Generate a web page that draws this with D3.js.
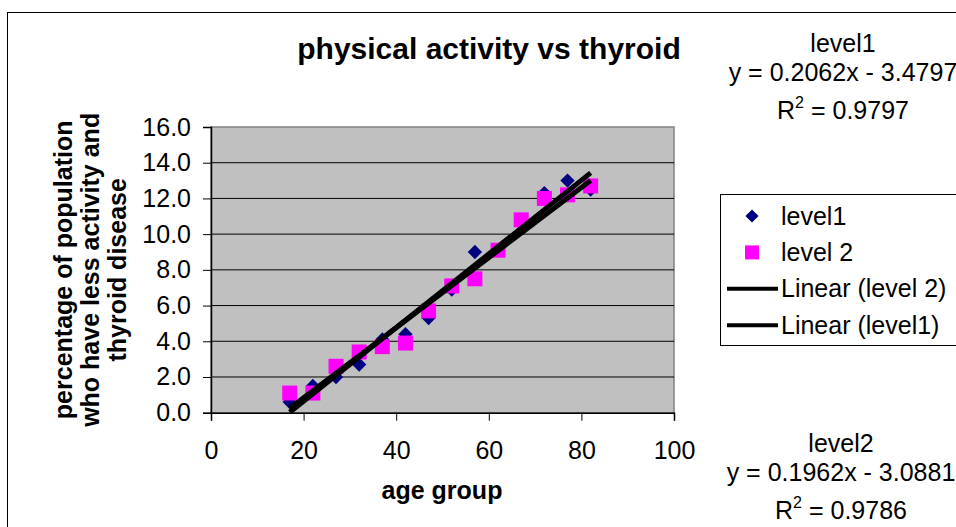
<!DOCTYPE html>
<html>
<head>
<meta charset="utf-8">
<script src="https://cdn.jsdelivr.net/npm/d3@7"></script>
<style>
  body { margin: 0; background: #fff; }
  text { font-family: "Liberation Sans", Arial, sans-serif; fill: #000; }
</style>
</head>
<body>
<script>
const width = 956;
const height = 527;

// data
const ageGroups = [17, 22, 27, 32, 37, 42, 47, 52, 57, 62, 67, 72, 77, 82];
const level1 = [0.6, 1.5, 2.0, 2.7, 4.1, 4.4, 5.3, 6.9, 9.0, 9.1, 10.6, 12.3, 13.0, 12.5];
const level2 = [1.1, 1.1, 2.6, 3.4, 3.7, 3.9, 5.7, 7.1, 7.5, 9.1, 10.8, 12.0, 12.2, 12.7];
const xTicks = [0, 20, 40, 60, 80, 100];
const yTicks = [0, 2, 4, 6, 8, 10, 12, 14, 16];
const trend1 = {slope: 0.2062, intercept: -3.4797, r2: "0.9797", eq: "y = 0.2062x - 3.4797"};
const trend2 = {slope: 0.1962, intercept: -3.0881, r2: "0.9786", eq: "y = 0.1962x - 3.0881"};

const fs = 25;

let svg = d3.select("body")
    .append("svg")
    .attr("width", width)
    .attr("height", height);

// outer chart border (runs off the right and bottom edge)
svg.append("rect")
    .attr("x", 7.5).attr("y", 12.5)
    .attr("width", 1000).attr("height", 600)
    .attr("fill", "none")
    .attr("stroke", "#000")
    .attr("stroke-width", 1);

let x = d3.scaleLinear().domain([0, 100]).range([211, 674]);
let y = d3.scaleLinear().domain([0, 16]).range([412.7, 127]);

// plot area
svg.append("rect")
    .attr("x", x(0)).attr("y", y(16))
    .attr("width", x(100) - x(0)).attr("height", y(0) - y(16))
    .attr("fill", "#c0c0c0")
    .attr("stroke", "#808080")
    .attr("stroke-width", 1.5);

svg.append("g")
    .selectAll("line")
    .data(yTicks.filter((d)=>d > 0 && d < 16))
    .enter()
    .append("line")
    .attr("x1", x(0)).attr("x2", x(100))
    .attr("y1", (d)=>y(d)).attr("y2", (d)=>y(d))
    .attr("stroke", "#000")
    .attr("stroke-width", 1);

// axes
let xAxis = svg.append("g")
    .attr("transform", "translate(0," + y(0) + ")")
    .call(d3.axisBottom(x).tickValues(xTicks).tickSize(8).tickPadding(21));
let yAxis = svg.append("g")
    .attr("transform", "translate(" + x(0) + ",0)")
    .call(d3.axisLeft(y).tickValues(yTicks).tickSize(8).tickPadding(12).tickFormat(d3.format(".1f")));

[xAxis, yAxis].forEach((a)=>{
    a.select(".domain").attr("stroke", "#000").attr("stroke-width", 1.5);
    a.selectAll(".tick line").attr("stroke", "#000");
    a.selectAll(".tick text")
        .attr("font-size", fs)
        .attr("font-family", "Liberation Sans, Arial, sans-serif")
        .attr("fill", "#000");
});

// markers: diamonds first, squares on top
let pts1 = ageGroups.map((a, i)=>({x: a, y: level1[i]}));
let pts2 = ageGroups.map((a, i)=>({x: a, y: level2[i]}));

svg.append("g")
    .selectAll("path")
    .data(pts1)
    .enter()
    .append("path")
    .attr("d", d3.symbol().type(d3.symbolDiamond2).size(130))
    .attr("transform", (d)=>"translate(" + x(d.x) + "," + y(d.y) + ")")
    .attr("fill", "#000080");

svg.append("g")
    .selectAll("rect")
    .data(pts2)
    .enter()
    .append("rect")
    .attr("x", (d)=>x(d.x) - 7.5)
    .attr("y", (d)=>y(d.y) - 7.5)
    .attr("width", 15).attr("height", 15)
    .attr("fill", "#ff00ff");

// trend lines
let xMin = d3.min(ageGroups);
let xMax = d3.max(ageGroups);
[trend2, trend1].forEach((t)=>{
    svg.append("line")
        .attr("x1", x(xMin)).attr("y1", y(t.slope * xMin + t.intercept))
        .attr("x2", x(xMax)).attr("y2", y(t.slope * xMax + t.intercept))
        .attr("stroke", "#000")
        .attr("stroke-width", 5);
});

// titles
svg.append("text")
    .attr("x", 489).attr("y", 59)
    .attr("text-anchor", "middle")
    .attr("font-size", 30)
    .attr("font-weight", "bold")
    .text("physical activity vs thyroid");

svg.append("text")
    .attr("x", 442).attr("y", 499)
    .attr("text-anchor", "middle")
    .attr("font-size", fs)
    .attr("font-weight", "bold")
    .text("age group");

let yTitle = svg.append("text")
    .attr("transform", "translate(100," + ((y(0) + y(16)) / 2) + ") rotate(-90)")
    .attr("text-anchor", "middle")
    .attr("font-size", fs)
    .attr("font-weight", "bold");
["percentage of population", "who have less activity and", "thyroid disease"].forEach((s, i)=>{
    yTitle.append("tspan")
        .attr("x", 0)
        .attr("y", -28 + i * 27)
        .text(s);
});

// legend
let legend = svg.append("g");
legend.append("rect")
    .attr("x", 720.5).attr("y", 194.5)
    .attr("width", 300).attr("height", 151)
    .attr("fill", "#fff")
    .attr("stroke", "#000");

let legendItems = [
    {label: "level1", kind: "diamond"},
    {label: "level 2", kind: "square"},
    {label: "Linear (level 2)", kind: "line"},
    {label: "Linear (level1)", kind: "line"}
];
legendItems.forEach((it, i)=>{
    let cy = 216 + i * 36.4;
    if (it.kind === "diamond") {
        legend.append("path")
            .attr("d", d3.symbol().type(d3.symbolDiamond2).size(110))
            .attr("transform", "translate(752," + cy + ")")
            .attr("fill", "#000080");
    } else if (it.kind === "square") {
        legend.append("rect")
            .attr("x", 745).attr("y", cy - 7)
            .attr("width", 14).attr("height", 14)
            .attr("fill", "#ff00ff");
    } else {
        legend.append("line")
            .attr("x1", 727).attr("x2", 778)
            .attr("y1", cy).attr("y2", cy)
            .attr("stroke", "#000").attr("stroke-width", 4);
    }
    legend.append("text")
        .attr("x", it.kind === "line" ? 781 : 781)
        .attr("y", cy + 8.5)
        .attr("font-size", fs)
        .text(it.label);
});

// trendline labels
function trendLabel(cx, top, name, t) {
    let g = svg.append("g");
    g.append("text").attr("x", cx).attr("y", top).attr("text-anchor", "middle").attr("font-size", fs).text(name);
    g.append("text").attr("x", cx).attr("y", top + 28.5).attr("text-anchor", "middle").attr("font-size", fs).text(t.eq);
    let r = g.append("text").attr("x", cx).attr("y", top + 66.5).attr("text-anchor", "middle").attr("font-size", fs);
    r.append("tspan").text("R");
    r.append("tspan").attr("font-size", 16).attr("dy", -11).text("2");
    r.append("tspan").attr("dy", 11).text(" = " + t.r2);
}
trendLabel(843, 52, "level1", trend1);
trendLabel(841, 452, "level2", trend2);
</script>
</body>
</html>
